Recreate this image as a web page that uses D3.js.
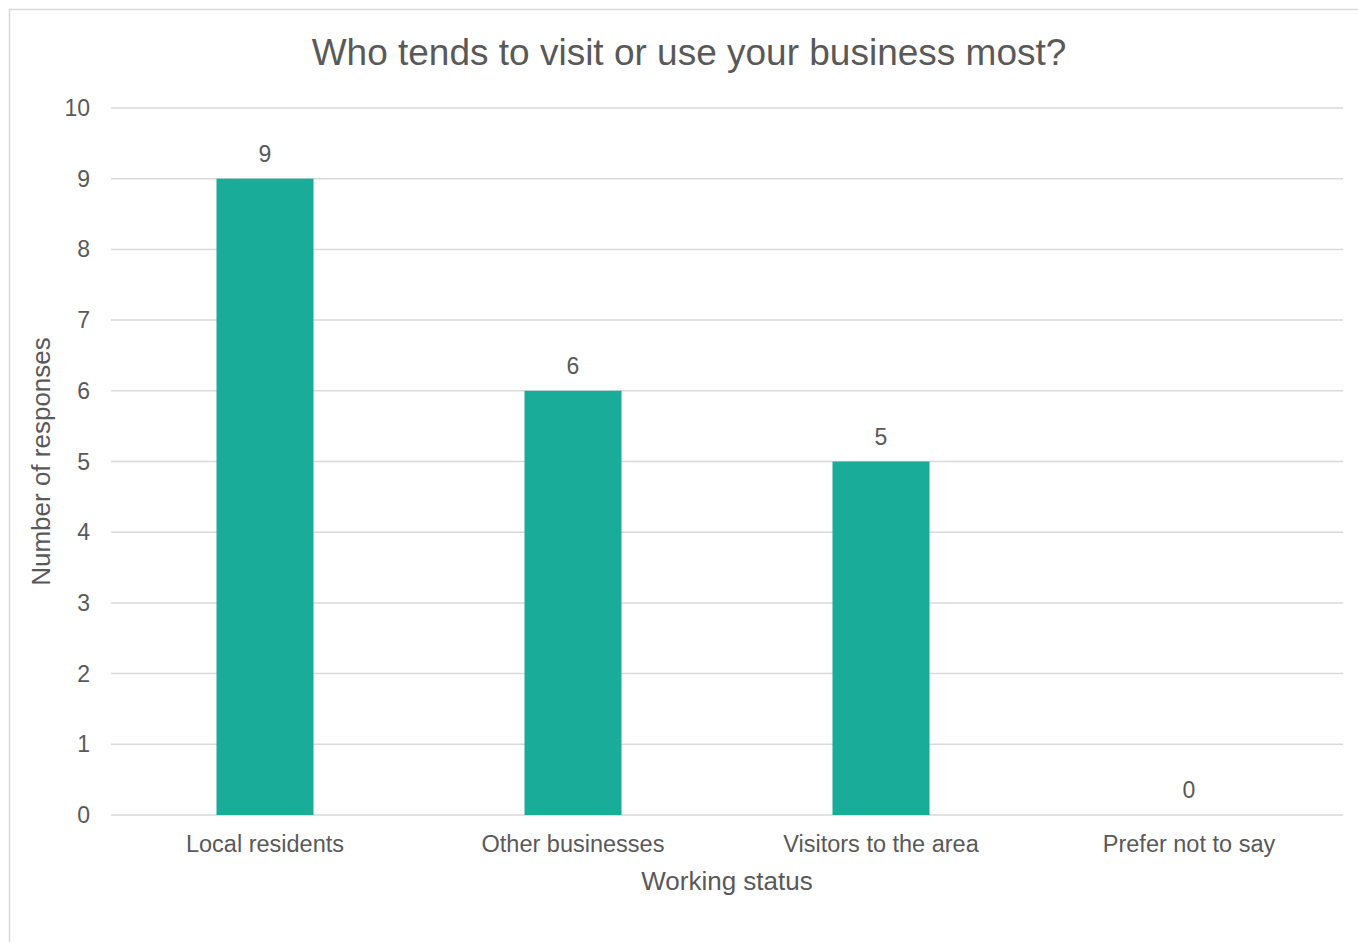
<!DOCTYPE html>
<html><head><meta charset="utf-8">
<script src="https://cdn.jsdelivr.net/npm/d3@7"></script>
<style>body{margin:0;background:#fff}svg{display:block}text{font-family:"Liberation Sans",Arial,sans-serif;fill:#595959}</style>
</head><body>
<script>
const categories = ["Local residents","Other businesses","Visitors to the area","Prefer not to say"];
const values = [9,6,5,0];
const yTicks = [0,1,2,3,4,5,6,7,8,9,10];
const title = "Who tends to visit or use your business most?";
const xTitle = "Working status";
const yTitle = "Number of responses";

const W = 1358, H = 942;
const svg = d3.select("body").append("svg").attr("width",W).attr("height",H);
svg.append("rect").attr("x",9.5).attr("y",9.5).attr("width",W+20).attr("height",H+20)
  .attr("fill","#fff").attr("stroke","#d9d9d9").attr("stroke-width",1.5);

const m = {l:111, r:1343, t:108, b:815};
const x = d3.scaleBand().domain(categories).range([m.l,m.r]).paddingInner(0.685).paddingOuter(0.3425);
const y = d3.scaleLinear().domain([0,10]).range([m.b,m.t]);

const grid = svg.append("g");
grid.selectAll("line").data(yTicks).join("line")
  .attr("x1",m.l).attr("x2",m.r).attr("y1",d=>y(d)).attr("y2",d=>y(d))
  .attr("stroke","#d9d9d9").attr("stroke-width",1.5);

svg.append("g").selectAll("text").data(yTicks).join("text")
  .attr("x",90).attr("y",d=>y(d)+8).attr("text-anchor","end")
  .style("font-size","23px").text(d=>d);

svg.append("g").selectAll("rect").data(values).join("rect")
  .attr("x",(d,i)=>x(categories[i])).attr("width",x.bandwidth())
  .attr("y",d=>y(d)).attr("height",d=>y(0)-y(d)).attr("fill","#19ad99");

svg.append("g").selectAll("text").data(values).join("text")
  .attr("x",(d,i)=>x(categories[i])+x.bandwidth()/2).attr("y",d=>y(d)-17)
  .attr("text-anchor","middle").style("font-size","23px").text(d=>d);

svg.append("g").selectAll("text").data(categories).join("text")
  .attr("x",d=>x(d)+x.bandwidth()/2).attr("y",852)
  .attr("text-anchor","middle").style("font-size","23.5px").text(d=>d);

svg.append("text").attr("x",(m.l+m.r)/2).attr("y",890).attr("text-anchor","middle")
  .style("font-size","26px").text(xTitle);
svg.append("text").attr("transform",`translate(50,${(m.t+m.b)/2}) rotate(-90)`)
  .attr("text-anchor","middle").style("font-size","26px").text(yTitle);
svg.append("text").attr("x",689).attr("y",65).attr("text-anchor","middle")
  .style("font-size","37px").text(title);
</script>
</body></html>
